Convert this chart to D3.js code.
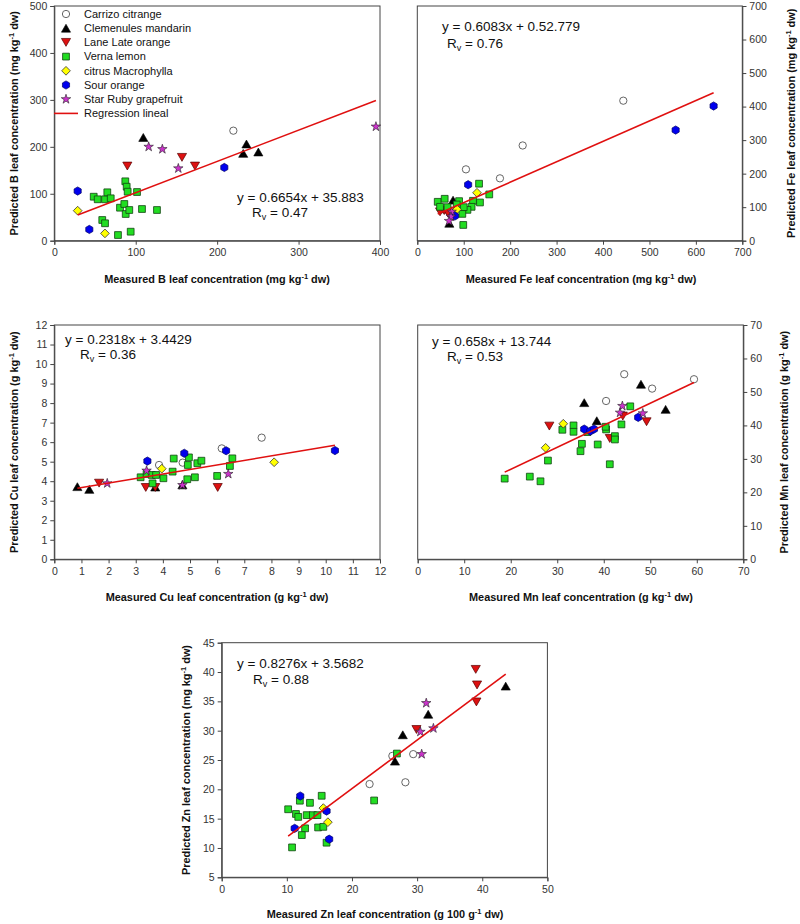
<!DOCTYPE html>
<html><head><meta charset="utf-8">
<script src="https://cdn.jsdelivr.net/npm/d3@7"></script>
<style>body{margin:0;background:#fff}svg{display:block}text{font-family:"Liberation Sans",Arial,sans-serif}</style>
</head><body>
<script>
const species = ["Carrizo citrange","Clemenules mandarin","Lane Late orange","Verna lemon","citrus Macrophylla","Sour orange","Star Ruby grapefruit"];
const speciesKeys = ["carrizo","clem","lane","verna","macro","sour","star"];

const bData = {
  carrizo:[[219.9,234.4]],
  clem:[[109.3,220],[236,206],[232,186],[250.6,189]],
  lane:[[89.7,159],[156.8,177.5],[172.8,159]],
  verna:[[48.4,93.7],[53.3,88.2],[62.3,88.2],[65.1,103.1],[69.3,90.3],[87.2,126.5],[88.9,115],[90.1,104.4],[101.6,103.7],[80.7,70.3],[86,78.2],[87.7,56.9],[92.1,65.4],[107.7,67.5],[126.1,65.4],[58.9,44.1],[62.3,37.1],[78.2,12.1],[93.8,19.2]],
  macro:[[28.7,64],[62.2,15.6]],
  sour:[[28.7,105.8],[43,24],[208.8,156]],
  star:[[115.9,200],[132.7,195],[152.3,154],[395,243]]
};
const feData = {
  carrizo:[[104.8,212.8],[178,186],[227,284],[443.7,417.6]],
  clem:[[77,121],[69,52],[62,95]],
  lane:[[49,86],[58,90],[66,82]],
  verna:[[44,116],[49,101],[59,125],[90,118],[120,119],[133,170],[155,138],[135,114],[117,101],[108,92],[97,80],[99,47],[65,100],[100,100],[85,108]],
  macro:[[128.6,143],[85.5,93.6]],
  sour:[[109.5,167],[81,73.7],[556.4,330],[638.2,401.7]],
  star:[[74,86.5],[72.6,71.6],[68.3,58.8]]
};
const cuData = {
  carrizo:[[3.86,4.83],[4.73,4.95],[6.17,5.68],[7.64,6.23]],
  clem:[[0.85,3.72],[1.29,3.58],[4.72,3.81],[3.72,3.7]],
  lane:[[1.65,3.9],[3.37,3.68],[3.72,3.68],[6.02,3.68]],
  verna:[[3.18,4.2],[3.4,4.37],[3.59,4.32],[3.62,3.89],[3.75,4.32],[4.02,4.15],[4.36,4.49],[4.4,5.16],[4.9,4.1],[4.92,4.83],[4.96,5.22],[5.18,4.2],[5.27,4.92],[5.42,5.05],[6.0,4.27],[6.47,4.78],[6.56,5.17]],
  macro:[[3.96,4.64],[8.1,4.97]],
  sour:[[3.43,5.03],[4.79,5.43],[6.33,5.56],[10.34,5.57]],
  star:[[1.95,3.89],[3.4,4.54],[4.72,3.8],[6.41,4.37]]
};
const mnData = {
  carrizo:[[44.4,55.3],[40.5,47.3],[50.4,51],[59.4,53.8]],
  clem:[[35.8,46.8],[48,52.3],[53.3,44.8],[38.5,41.4]],
  lane:[[28.3,39.8],[41.3,36.1],[44.1,42.8],[49.2,41.1]],
  verna:[[45.7,45.7],[43.8,40.3],[40.5,38.8],[40.4,39.6],[42.4,36.8],[42.4,35.8],[41.3,28.4],[38.7,34.3],[36.5,38],[35.3,34.5],[35,32.3],[33.5,40],[33.5,38.1],[31.1,38.7],[28,29.5],[26.4,23.3],[24.1,24.7],[18.7,24.1]],
  macro:[[31.3,40.5],[27.5,33.3]],
  sour:[[35.8,38.9],[37.1,38.3],[37.9,38.9],[47.4,42.4]],
  star:[[44,45.8],[43.5,43.8],[48.4,43.6]]
};
const znData = {
  carrizo:[[22.7,20.9],[26.2,25.7],[29.4,26],[28.2,21.2]],
  clem:[[43.6,37.6],[31.7,32.8],[27.8,29.3],[26.6,24.8]],
  lane:[[39.0,40.45],[39.2,37.8],[39.1,34.9],[29.9,30.2]],
  verna:[[26.9,26.1],[23.4,18.1],[15.35,18.9],[12.0,18.06],[13.55,17.7],[10.2,16.6],[11.4,15.8],[11.75,15.3],[13.05,15.6],[14.0,15.6],[14.7,15.6],[12.8,13.35],[12.3,12.2],[14.8,13.5],[15.6,13.6],[16.1,10.9],[10.8,10.1]],
  macro:[[15.6,16.8],[16.3,14.4]],
  sour:[[12.06,18.86],[16.1,16.3],[11.2,13.35],[16.5,11.5]],
  star:[[31.4,34.7],[30.5,29.8],[32.5,30.4],[30.7,26]]
};
const slopes = [0.6654, 0.6083, 0.2318, 0.658, 0.8276];
const intercepts = [35.883, 52.779, 3.4429, 13.744, 3.5682];
const eqLabels = ["y = 0.6654x + 35.883","y = 0.6083x + 0.52.779","y = 0.2318x + 3.4429","y = 0.658x + 13.744","y = 0.8276x + 3.5682"];
const rvLabels = ["0.47","0.76","0.36","0.53","0.88"];
const xTicks = [d3.range(0,401,100), d3.range(0,701,100), d3.range(0,13,1), d3.range(0,71,10), d3.range(0,51,10)];
const yTicks = [d3.range(0,501,100), d3.range(0,701,100), d3.range(0,13,1), d3.range(0,71,10), d3.range(5,46,5)];

// custom symbols
const hexagon = {draw(ctx, size){const r=Math.sqrt(size/(1.5*Math.sqrt(3)));for(let i=0;i<6;i++){const a=Math.PI/6+i*Math.PI/3;const x=r*Math.cos(a),y=r*Math.sin(a);i?ctx.lineTo(x,y):ctx.moveTo(x,y);}ctx.closePath();}};
const triDown = {draw(ctx,size){const s=Math.sqrt(size*4/Math.sqrt(3));const h=s*Math.sqrt(3)/2;ctx.moveTo(-s/2,-h/2);ctx.lineTo(s/2,-h/2);ctx.lineTo(0,h/2);ctx.closePath();}};
const triUp = {draw(ctx,size){const s=Math.sqrt(size*4/Math.sqrt(3));const h=s*Math.sqrt(3)/2;ctx.moveTo(-s/2,h/2);ctx.lineTo(s/2,h/2);ctx.lineTo(0,-h/2);ctx.closePath();}};
const diamond = {draw(ctx,size){const r=Math.sqrt(size/2);ctx.moveTo(0,-r);ctx.lineTo(r,0);ctx.lineTo(0,r);ctx.lineTo(-r,0);ctx.closePath();}};
const styles = {
  carrizo:{type:d3.symbolCircle,size:42,fill:"#fff",stroke:"#555",sw:0.9},
  clem:{type:triUp,size:36,fill:"#000",stroke:"#000",sw:0.6},
  lane:{type:triDown,size:36,fill:"#dd1111",stroke:"#550000",sw:0.7},
  verna:{type:d3.symbolSquare,size:46,fill:"#22dd22",stroke:"#114411",sw:0.8},
  macro:{type:diamond,size:38,fill:"#ffff00",stroke:"#333",sw:0.8},
  sour:{type:hexagon,size:44,fill:"#0000ee",stroke:"#000066",sw:0.7},
  star:{type:d3.symbolStar,size:28,fill:"#cc33cc",stroke:"#222",sw:0.6}
};

const svg = d3.select("body").append("svg").attr("width",800).attr("height",924);

const panels = [
  {data:bData, x:[54.3,380], y:[6,240.7], side:"left", xt:"Measured B leaf concentration (mg kg", xt2:" dw)", xtPos:[217,283], yt:"Predicted B leaf concentration (mg kg", yt2:" dw)", ytX:14, eq:[237,202], rv:[252,217]},
  {data:feData, x:[417.3,742.3], y:[6,240.7], side:"right", xt:"Measured Fe leaf concentration (mg kg", xt2:" dw)", xtPos:[581,283], yt:"Predicted Fe leaf concentration (mg kg", yt2:" dw)", ytX:791, eq:[442,31], rv:[447,48]},
  {data:cuData, x:[54.3,380], y:[325,559.3], side:"left", xt:"Measured Cu leaf concentration (g kg", xt2:" dw)", xtPos:[217,601], yt:"Predicted Cu leaf concentration (g kg", yt2:" dw)", ytX:14, eq:[65,344], rv:[80,358.5]},
  {data:mnData, x:[417.7,743.3], y:[325,559.3], side:"right", xt:"Measured Mn leaf concentration (g kg", xt2:" dw)", xtPos:[581,601], yt:"Predicted Mn leaf concentration (g kg", yt2:" dw)", ytX:784, eq:[432,346], rv:[447,361]},
  {data:znData, x:[221.7,547.4], y:[642.7,877.3], side:"left", xt:"Measured Zn leaf concentration (g 100 g", xt2:" dw)", xtPos:[385,918], yt:"Predicted Zn leaf concentration (mg kg", yt2:" dw)", ytX:186, eq:[237,668], rv:[253,683.5]}
];

panels.forEach((p,i)=>{
  const xs = d3.scaleLinear().domain(d3.extent(xTicks[i])).range(p.x);
  const ys = d3.scaleLinear().domain(d3.extent(yTicks[i])).range([p.y[1],p.y[0]]);
  const g = svg.append("g");
  g.append("rect").attr("x",p.x[0]).attr("y",p.y[0]).attr("width",p.x[1]-p.x[0]).attr("height",p.y[1]-p.y[0])
    .attr("fill","none").attr("stroke","#444").attr("stroke-width",1);
  const xa = g.append("g").attr("transform",`translate(0,${p.y[1]})`).call(d3.axisBottom(xs).tickValues(xTicks[i]).tickSize(4).tickPadding(4).tickFormat(d3.format("d")));
  const ya = g.append("g").attr("transform",`translate(${p.side==="left"?p.x[0]:p.x[1]},0)`)
    .call((p.side==="left"?d3.axisLeft(ys):d3.axisRight(ys)).tickValues(yTicks[i]).tickSize(4).tickPadding(3).tickFormat(d3.format("d")));
  [xa,ya].forEach(a=>{a.select(".domain").attr("stroke","#444");a.selectAll(".tick line").attr("stroke","#444");
    a.selectAll("text").attr("font-size",10.5).attr("fill","#333").attr("font-family","'Liberation Sans',Arial,sans-serif");});
  const xt = g.append("text").attr("x",p.xtPos[0]).attr("y",p.xtPos[1]).attr("text-anchor","middle").attr("font-size",10.9).attr("font-weight","bold").attr("fill","#111");
  xt.append("tspan").text(p.xt);
  xt.append("tspan").attr("dy",-4).attr("font-size",7.5).text("-1");
  xt.append("tspan").attr("dy",4).text(p.xt2);
  const ycy = (p.y[0]+p.y[1])/2;
  const yt = g.append("text").attr("transform",`translate(${p.ytX},${ycy}) rotate(-90)`).attr("text-anchor","middle").attr("font-size",10.9).attr("font-weight","bold").attr("fill","#111").attr("dy","0.35em");
  yt.append("tspan").text(p.yt);
  yt.append("tspan").attr("dy",-4).attr("font-size",7.5).text("-1");
  yt.append("tspan").attr("dy",4).text(p.yt2);
  speciesKeys.forEach(k=>{
    const st = styles[k];
    g.selectAll(null).data(p.data[k]).enter().append("path")
      .attr("d",d3.symbol().type(st.type).size(st.size))
      .attr("transform",d=>`translate(${xs(d[0])},${ys(d[1])})`)
      .attr("fill",st.fill).attr("stroke",st.stroke).attr("stroke-width",st.sw);
  });
  const allX = speciesKeys.flatMap(k=>p.data[k].map(d=>d[0]));
  const ext = d3.extent(allX);
  g.append("path").datum(ext.map(x=>[x,slopes[i]*x+intercepts[i]]))
    .attr("d",d3.line().x(d=>xs(d[0])).y(d=>ys(d[1]))).attr("stroke","#e01010").attr("stroke-width",1.6).attr("fill","none");
  g.append("text").attr("x",p.eq[0]).attr("y",p.eq[1]).attr("font-size",13.5).attr("fill","#111").text(eqLabels[i]);
  const rv = g.append("text").attr("x",p.rv[0]).attr("y",p.rv[1]).attr("font-size",13.5).attr("fill","#111");
  rv.append("tspan").text("R");
  rv.append("tspan").attr("dy",3).attr("font-size",9).text("v");
  rv.append("tspan").attr("dy",-3).text(" = "+rvLabels[i]);

  if(i===0){
    const lg = g.append("g");
    species.forEach((s,j)=>{
      const k = speciesKeys[j], st=styles[k], yy = 14+j*14.2;
      lg.append("path").attr("d",d3.symbol().type(st.type).size(st.size)).attr("transform",`translate(66,${yy})`)
        .attr("fill",st.fill).attr("stroke",st.stroke).attr("stroke-width",st.sw);
      lg.append("text").attr("x",84).attr("y",yy).attr("dy","0.35em").attr("font-size",11).attr("fill","#111").text(s);
    });
    const yy = 14+7*14.2;
    lg.append("line").attr("x1",54).attr("x2",78).attr("y1",yy).attr("y2",yy).attr("stroke","#e01010").attr("stroke-width",1.6);
    lg.append("text").attr("x",84).attr("y",yy).attr("dy","0.35em").attr("font-size",11).attr("fill","#111").text("Regression lineal");
  }
});
</script>
</body></html>
